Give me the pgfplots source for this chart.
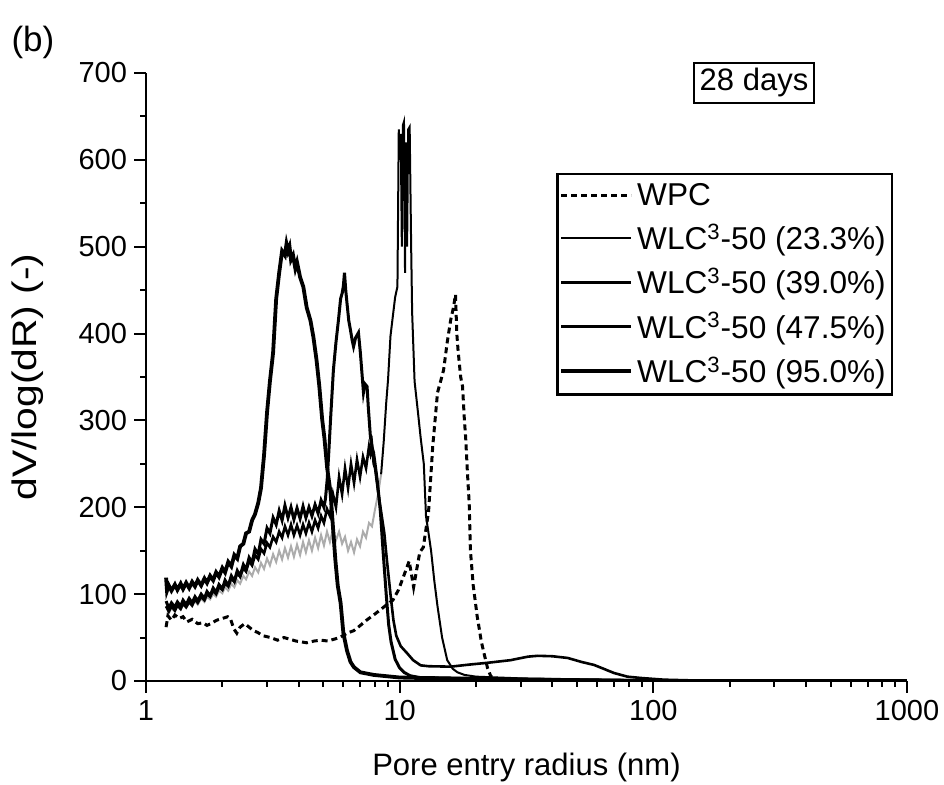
\documentclass[border=0pt]{standalone}
\usepackage{pgfplots}
\pgfplotsset{compat=1.18}
\usepackage{fontspec}
\setmainfont{Liberation Sans}
\begin{document}
\begin{tikzpicture}
\begin{axis}[
  name=ax,
  clip mode=individual,
  scale only axis,
  width=380.5pt, height=304pt,
  xmode=log, xmin=1, xmax=1000, ymin=0, ymax=700,
  axis lines=left,
  axis line style={-, line width=1.2pt},
  tick align=outside,
  major tick length=6pt, minor tick length=3pt,
  every tick/.style={black, line width=1pt},
  xtick={1,10,100,1000}, xticklabels={1,10,100,1000},
  ytick={0,100,...,700}, minor y tick num=1,
  /pgf/number format/assume math mode=true,
  tick label style={font=\fontsize{14.5}{17}\selectfont},
  xlabel={Pore entry radius (nm)},
  ylabel={\scalebox{1.2}[1]{dV/log(dR) (-)}},
  label style={font=\fontsize{15.5}{18}\selectfont},
  xlabel style={at={(axis description cs:0.5,-0.143)}, anchor=center},
  ylabel style={at={(axis description cs:-0.155,0.5)}, anchor=center, font=\fontsize{17}{20}\selectfont},
  legend cell align=left,
  legend image code/.code={\draw[#1] (0pt,0pt) -- (35pt,0pt);},
  legend style={at={(axis description cs:0.9816,0.8355)}, anchor=north east,
    draw=black, line width=1.2pt, inner xsep=1pt, inner ysep=2.5pt,
    font=\fontsize{15.8}{19}\selectfont, row sep=3.7pt},
]
% WLC3-50 (23.3%) -- gray lower part
\addplot[gray!65, line width=1pt, forget plot] coordinates {
(1.20,86)(1.23,78)(1.26,84)(1.30,80)(1.33,86)(1.37,82)(1.40,88)(1.44,84)(1.48,90)(1.52,86)
(1.56,92)(1.60,88)(1.65,95)(1.70,91)(1.74,97)(1.79,94)(1.84,100)(1.89,97)(1.94,104)(2.00,101)
(2.05,108)(2.11,104)(2.17,112)(2.23,108)(2.29,116)(2.35,112)(2.42,121)(2.48,117)(2.55,126)(2.62,121)
(2.69,131)(2.77,125)(2.84,136)(2.92,129)(3.00,141)(3.08,133)(3.17,146)(3.26,137)(3.35,150)(3.44,140)
(3.53,153)(3.63,142)(3.73,155)(3.83,143)(3.94,157)(4.05,145)(4.16,160)(4.27,148)(4.39,162)(4.51,150)
(4.64,165)(4.77,153)(4.90,168)(5.03,156)(5.17,172)(5.31,160)(5.46,175)(5.61,162)(5.77,172)(5.93,158)
(6.09,166)(6.26,150)(6.43,160)(6.61,148)(6.79,163)(6.98,155)(7.17,172)(7.37,165)(7.57,182)(7.78,178)
(8.00,198)(8.22,215)(8.45,238)
};
% WPC
\addplot[black, line width=1.5pt, dash pattern=on 3pt off 2pt] coordinates {
(1.20,62)(1.22,75)(1.26,70)(1.30,76)(1.35,72)(1.40,74)(1.45,68)(1.52,71)(1.60,66)(1.68,67)
(1.74,64)(1.80,66)(1.90,70)(2.00,72)(2.10,74)(2.15,72)(2.22,60)(2.28,55)(2.35,62)(2.45,66)
(2.55,62)(2.65,58)(2.75,56)(2.90,52)(3.10,50)(3.30,47)(3.50,50)(3.70,48)(3.90,46)(4.10,45)
(4.30,44)(4.60,46)(4.90,47)(5.20,46)(5.50,48)(5.80,50)(6.20,55)(6.60,58)(7.00,64)(7.40,70)
(7.90,76)(8.40,82)(8.90,88)(9.40,93)(9.90,105)(10.5,125)(10.9,138)(11.1,125)(11.35,108)(11.7,130)
(12.0,148)(12.4,154)(12.7,175)(13.0,195)(13.5,270)(14.1,332)(14.5,345)(14.9,358)(15.4,390)(15.9,416)
(16.3,430)(16.6,445)(16.8,400)(17.0,380)(17.4,350)(17.7,339)(18.0,300)(18.2,281)(18.5,240)(18.8,205)
(19.0,151)(19.5,110)(20.2,75)(21.0,45)(21.5,32)(22.2,15)(22.9,5)(25,2)(30,1)(50,0.5)(100,0)(1000,0)
};
\addlegendentry{WPC}
% WLC3-50 (23.3%) -- black upper part
\addplot[black, line width=1pt] coordinates {
(8.45,238)(8.65,275)(8.85,320)(9.0,347)(9.2,397)(9.4,420)(9.6,442)(9.8,454)(9.92,635)(10.0,600)
(10.1,630)(10.2,500)(10.3,640)(10.4,644)(10.5,470)(10.6,620)(10.7,500)(10.8,635)(10.95,638)(11.1,500)
(11.2,424)(11.45,345)(11.8,310)(12.1,280)(12.45,250)(12.7,190)(13.0,170)(13.3,150)(13.7,115)(14.1,86)
(14.7,50)(15.4,24)(16.2,14)(16.9,10)(18,7)(20,5)(30,3)(50,2)(100,1)(200,0)(1000,0)
};
\addlegendentry{WLC\textsuperscript{3}-50 (23.3\%)}
% WLC3-50 (39.0%)
\addplot[black, line width=1.3pt] coordinates {
(1.20,86)(1.23,80)(1.26,86)(1.30,81)(1.33,87)(1.37,83)(1.40,89)(1.44,85)(1.48,91)(1.52,87)
(1.56,94)(1.60,90)(1.65,97)(1.70,93)(1.74,100)(1.79,97)(1.84,104)(1.89,100)(1.94,108)(2.00,105)
(2.05,112)(2.11,109)(2.17,118)(2.23,114)(2.29,124)(2.35,120)(2.42,130)(2.48,126)(2.55,138)(2.62,133)
(2.69,145)(2.77,140)(2.84,152)(2.92,147)(3.00,159)(3.08,154)(3.17,166)(3.26,160)(3.35,172)(3.44,165)
(3.53,178)(3.63,168)(3.73,180)(3.83,168)(3.94,179)(4.05,168)(4.16,180)(4.27,170)(4.39,182)(4.51,172)
(4.64,185)(4.77,176)(4.90,190)(5.03,182)(5.17,198)(5.31,190)(5.46,215)(5.61,200)(5.77,235)(5.93,215)
(6.09,245)(6.26,222)(6.43,250)(6.61,228)(6.79,255)(6.98,235)(7.17,258)(7.37,245)(7.57,270)(7.67,262)
(7.78,272)(7.90,250)(8.00,245)(8.22,218)(8.45,195)(8.7,170)(8.9,140)(9.2,100)(9.45,70)(9.7,52)
(10.1,40)(10.7,32)(11.3,24)(12.1,18)(13.0,17)(15.9,16.5)(19,19)(22.3,21)(27.4,24)(32,28)
(35,29)(40,28.5)(46,26.5)(52,22)(58.5,18.4)(65,13)(70,9.2)(79,5)(89,3.5)(110,1.5)(150,0.5)(200,0)(1000,0)
};
\addlegendentry{WLC\textsuperscript{3}-50 (39.0\%)}
% WLC3-50 (47.5%)
\addplot[black, line width=1.5pt] coordinates {
(1.20,92)(1.23,84)(1.26,90)(1.30,85)(1.33,91)(1.37,86)(1.40,93)(1.44,88)(1.48,95)(1.52,90)
(1.56,97)(1.60,92)(1.65,100)(1.70,95)(1.74,103)(1.79,98)(1.84,107)(1.89,102)(1.94,111)(2.00,106)
(2.05,116)(2.11,110)(2.17,121)(2.23,115)(2.29,127)(2.35,121)(2.42,134)(2.48,128)(2.55,142)(2.62,136)
(2.69,152)(2.77,146)(2.84,163)(2.92,158)(3.00,176)(3.08,170)(3.17,188)(3.26,180)(3.35,196)(3.44,185)
(3.53,202)(3.63,188)(3.73,200)(3.83,186)(3.94,199)(4.05,187)(4.16,201)(4.27,188)(4.39,200)(4.51,190)
(4.64,203)(4.77,193)(4.90,208)(5.03,200)(5.10,210)(5.18,232)(5.26,265)(5.34,301)(5.48,358)(5.61,390)
(5.74,416)(5.85,440)(5.94,447)(6.00,455)(6.06,470)(6.13,450)(6.20,435)(6.30,415)(6.40,404)(6.50,392)
(6.58,385)(6.70,395)(6.88,401)(7.00,378)(7.10,355)(7.20,332)(7.30,342)(7.44,339)(7.52,316)(7.67,281)
(7.80,268)(7.89,263)(8.00,250)(8.15,232)(8.30,210)(8.40,194)(8.60,150)(8.85,100)(9.05,65)(9.25,45)
(9.6,25)(10.0,15)(10.4,10)(11,6)(12,4)(20,3)(50,1)(100,0)(1000,0)
};
\addlegendentry{WLC\textsuperscript{3}-50 (47.5\%)}
% WLC3-50 (95.0%)
\addplot[black, line width=1.9pt] coordinates {
(1.20,119)(1.21,104)(1.23,110)(1.26,104)(1.30,111)(1.33,105)(1.37,112)(1.40,106)(1.44,113)(1.48,107)
(1.52,114)(1.56,109)(1.60,116)(1.65,110)(1.70,118)(1.74,113)(1.79,121)(1.84,116)(1.89,125)(1.94,120)
(2.00,130)(2.05,125)(2.11,137)(2.17,132)(2.23,145)(2.29,141)(2.35,155)(2.42,158)(2.48,170)(2.55,172)
(2.62,185)(2.69,192)(2.77,205)(2.84,222)(2.92,260)(3.00,309)(3.08,345)(3.17,378)(3.26,440)(3.35,470)
(3.44,495)(3.53,490)(3.58,503)(3.63,495)(3.68,500)(3.73,485)(3.80,490)(3.88,475)(3.94,482)(4.05,465)
(4.17,454)(4.30,430)(4.45,415)(4.57,396)(4.70,370)(4.82,340)(4.95,301)(5.05,280)(5.18,245)(5.34,217)
(5.45,180)(5.58,139)(5.70,110)(5.85,90)(6.0,55)(6.2,35)(6.4,22)(6.6,16)(7.0,10)(7.9,7)
(10,4)(20,2)(50,1)(100,0)(1000,0)
};
\addlegendentry{WLC\textsuperscript{3}-50 (95.0\%)}
\node[anchor=west, font=\fontsize{17.5}{20}\selectfont] at (axis description cs:-0.186,1.05) {(b)};
\node[draw=black, line width=1pt, inner sep=3pt, font=\fontsize{15.5}{18}\selectfont] at (axis description cs:0.799,0.9836) {28 days};
\end{axis}
\pgfresetboundingbox
\path ([shift={(-73pt,-52pt)}]ax.south west) rectangle ([shift={(18.5pt,36.5pt)}]ax.north east);
\end{tikzpicture}
\end{document}
